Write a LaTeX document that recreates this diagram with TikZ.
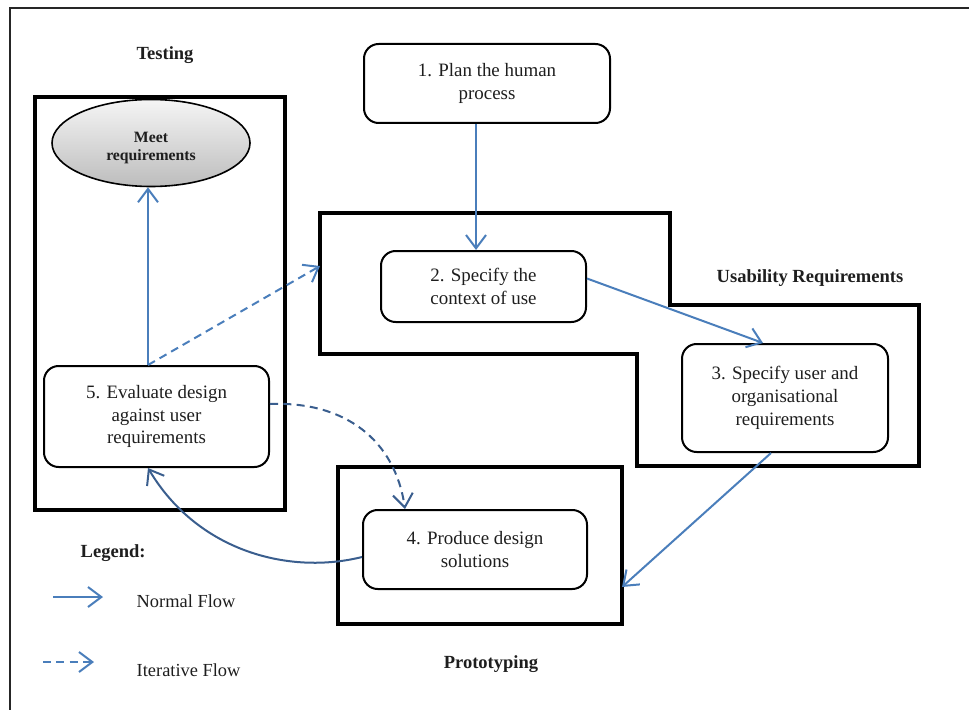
\documentclass[tikz,border=0pt]{standalone}
\usepackage{fontspec}
\setmainfont{Liberation Serif}
\usetikzlibrary{arrows.meta,calc,shapes.geometric}
\definecolor{flowblue}{RGB}{74,126,187}
\definecolor{loopblue}{RGB}{58,94,142}
\definecolor{inkgray}{RGB}{30,30,30}

\begin{document}
\begin{tikzpicture}[x=0.75pt,y=-0.75pt,
  stepbox/.style={draw=black, line width=1.5pt, rounded corners=11pt, align=center,
    inner sep=0pt, text=inkgray, font=\fontsize{14.2}{17.2}\selectfont},
  region/.style={draw=black, line width=3pt, line join=miter},
  heading/.style={font=\bfseries\fontsize{13.9}{17}\selectfont, text=inkgray},
  tipstyle/.style={-{Straight Barb[length=10pt,width=15pt]}},
  flow/.style={draw=flowblue, line width=1.5pt, tipstyle},
  iterflow/.style={draw=flowblue, line width=1.5pt, dash pattern=on 6pt off 4pt, tipstyle},
  loopflow/.style={draw=loopblue, line width=1.5pt, tipstyle},
  loopiter/.style={draw=loopblue, line width=1.5pt, dash pattern=on 6pt off 4pt, tipstyle},
  legendtext/.style={anchor=west, text=inkgray, font=\fontsize{13.8}{17}\selectfont}
]
\useasboundingbox (0,0) rectangle (969,709);

% outer frame
\draw[line width=1.5pt, draw=black!85] (10,712) -- (10,8) -- (972,8);

% phase regions
\draw[region] (35,97) rectangle (285,510);
\draw[region] (320,213) -- (670,213) -- (670,305) -- (919,305) -- (919,466)
  -- (637,466) -- (637,354) -- (320,354) -- cycle;
\draw[region] (338,467) rectangle (622,624);
\coordinate (usableft) at (320,266);
\coordinate (protoright) at (622,587);

% phase headings
\node[heading] (testing) at (165,55) {Testing};
\node[heading] (usability) at (810,278) {Usability Requirements};
\node[heading] (proto) at (491,664) {Prototyping};

% goal
\node[draw=black, line width=1.2pt, ellipse, minimum width={198*0.75pt}, minimum height={87*0.75pt},
  top color=black!4, bottom color=black!26, inner sep=0pt] (meet) at (151,143) {};
\node[align=center, inner sep=0pt, text=inkgray, font=\bfseries\fontsize{11.8}{12.8}\selectfont]
  (meettext) at (151,148) {Meet\\requirements};

% process steps
\node[stepbox, minimum width={246*0.75pt}, minimum height={79*0.75pt}] (n1) at (487,83.5)
  {1. Plan the human\\process};
\node[stepbox, minimum width={205*0.75pt}, minimum height={71*0.75pt}] (n2) at (483.5,286.5)
  {2. Specify the\\context of use};
\node[stepbox, minimum width={206*0.75pt}, minimum height={108*0.75pt}] (n3) at (785,398)
  {3. Specify user and\\organisational\\requirements};
\node[stepbox, minimum width={224*0.75pt}, minimum height={79*0.75pt}] (n4) at (475,549.5)
  {4. Produce design\\solutions};
\node[stepbox, minimum width={225*0.75pt}, minimum height={101*0.75pt}] (n5) at (156.5,416.5)
  {5. Evaluate design\\against user\\requirements};

% normal flow
\draw[flow] ($(n1.south)+(-11,0)$) -- ($(n2.north)+(-7.5,0)$);
\draw[flow] ($(n2.east)+(0,-8)$) -- ($(n3.north)+(-22,0)$);
\draw[flow] ($(n3.south)+(-14,0)$) -- (protoright);
\draw[flow] ($(n5.north)+(-8.5,0)$) -- ($(meet.south)+(-3,0)$);

% iterative flow
\draw[iterflow] ($(n5.north)+(-8.5,0)$) -- (usableft);
\draw[loopiter] ($(n5.east)+(0,-12.5)$) .. controls (345,401) and (395,440) .. ($(n4.north)+(-70,0)$);
\draw[loopflow] ($(n4.west)+(0,7.5)$) .. controls (290,575) and (198,552) .. ($(n5.south)+(-8.5,0)$);

% legend
\node[heading, anchor=west] (legend) at (76,553) {Legend:};
\coordinate (na) at (53,597);
\coordinate (nb) at (103,597);
\draw[flow] (na) -- (nb);
\node[legendtext] (normal) at (132,601) {Normal Flow};
\coordinate (ia) at (43,662);
\coordinate (ib) at (94,662);
\draw[iterflow] (ia) -- (ib);
\node[legendtext] (iter) at (132,670) {Iterative Flow};
\end{tikzpicture}
\end{document}
